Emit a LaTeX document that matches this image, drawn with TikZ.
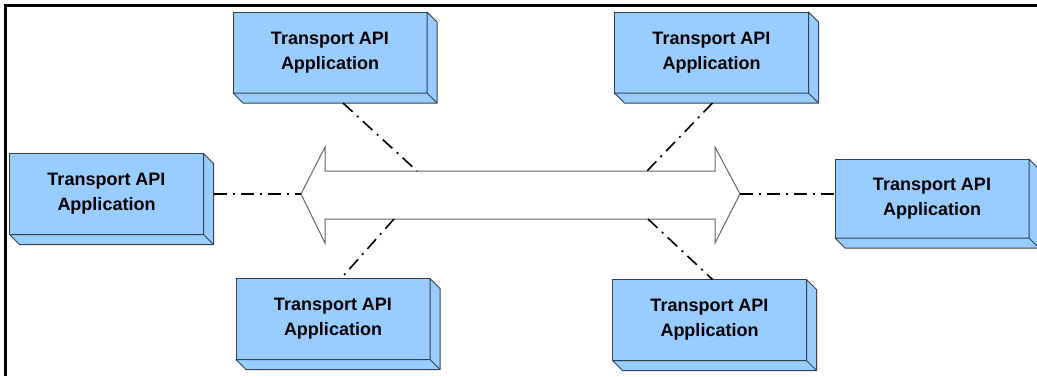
\documentclass[tikz,border=0pt]{standalone}
\usepackage{fontspec}
\setmainfont{Liberation Sans}
\usepackage{tikz}

\definecolor{appblue}{HTML}{99CCFF}
\definecolor{appedge}{HTML}{34414E}

\begin{document}
\begin{tikzpicture}[x=1pt,y=-1pt,
  appbox/.style={draw=appedge,fill=appblue,line width=1pt,minimum width=194pt,
    minimum height=81pt,outer sep=0pt,align=center,font=\fontsize{18}{25}\selectfont\bfseries},
  boxside/.style={draw=appedge,fill=appblue,line width=1pt,line join=round},
  link/.style={line width=1.6pt,dash pattern=on 13pt off 6pt on 2pt off 6pt},
  busline/.style={draw=black!60,fill=white,line width=1pt}]
  \useasboundingbox (0,0) rectangle (1037,376);
  % frame
  \draw[line width=3pt] (4,5.5) -- (1037,5.5);
  \draw[line width=3pt] (5.5,4) -- (5.5,376);
  % applications
  \node[appbox] (app1) at (330,52.5) {Transport API\\Application};
  \node[appbox] (app2) at (106.5,194) {Transport API\\Application};
  \node[appbox] (app3) at (711.5,52.5) {Transport API\\Application};
  \node[appbox,minimum height=79pt] (app4) at (932,198.5) {Transport API\\Application};
  \node[appbox] (app5) at (333,319) {Transport API\\Application};
  \node[appbox] (app6) at (709.5,320) {Transport API\\Application};
  \foreach \n in {app1,app2,app3,app4,app5,app6} {
    \filldraw[boxside] (\n.north east) -- ([shift={(10,10)}]\n.north east)
      -- ([shift={(10,10)}]\n.south east) -- ([shift={(10,10)}]\n.south west)
      -- (\n.south west) -- (\n.south east) -- cycle;
    \draw[boxside] (\n.south east) -- ([shift={(10,10)}]\n.south east);
  }
  % transport bus
  \draw[busline] (301,194) coordinate (tipL) -- (325,147) -- (325,171)
    -- (715,171) -- (715,147) -- (740,194) coordinate (tipR) -- (715,243)
    -- (715,219) -- (325,219) -- (325,243) -- cycle;
  \coordinate (t1) at (417,171);
  \coordinate (t3) at (647,171);
  \coordinate (b5) at (394,219);
  \coordinate (b6) at (648,219);
  % links
  \draw[link] ([shift={(13,10)}]app1.south) -- (t1);
  \draw[link] ([shift={(1,10)}]app3.south) -- (t3);
  \draw[link] ([shift={(10,0)}]app2.east) -- (tipL);
  \draw[link] (tipR) -- (app4.west |- tipR);
  \draw[link] (b5) -- ([shift={(8,0)}]app5.north);
  \draw[link] (b6) -- ([shift={(3,0)}]app6.north);
\end{tikzpicture}
\end{document}
